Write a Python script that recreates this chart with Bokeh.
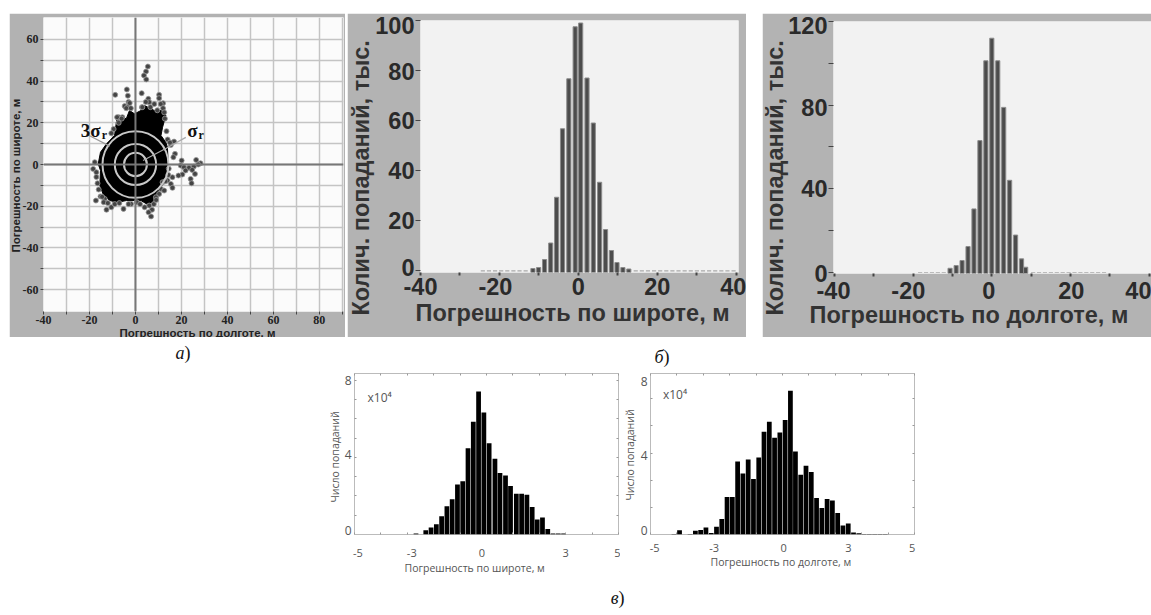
from math import pi
from bokeh.plotting import figure
from bokeh.models import (Range1d, LinearAxis, FixedTicker, Grid, Label, Title, Span, Spacer, Row, Column)
from bokeh.core.properties import value
from bokeh.embed import file_html
from bokeh.resources import INLINE

# ---------- panel a data (longitude error, latitude error, metres)
cloud_x = [-9.1,-8.3,-7.6,-4.0,-2.6,-0.4,2.4,3.9,8.2,12.5,13.2,11.8,11.1,13.2,13.9,14.2,13.5,11.5,9.6,7.5,5.3,2.4,-0.4,-4,-7.6,-11.2,-14.1,-15.5,-15.2,-16.2,-15.2,-12.6]
cloud_y = [13.9,20.3,23.5,21.9,25.9,24.3,25.9,28.3,25.9,25.9,23.5,17.9,13.9,10.7,8.3,1.9,-4.5,-10.1,-14.1,-18.1,-19.2,-17.3,-17.3,-17.3,-18.1,-17.3,-14.1,-10.1,-2.9,0.3,5.9,9.9]
pts_x = [5.4,4.6,3.7,4.7,-3.75,-8.8,2.7,-3.3,10.3,10.3,5.6,8.2,12,6,-4.7,-3.3,2.8,-7.3,-5.7,
         -17.7,-18.4,-17,-17.2,-15.2,-13.4,-13.8,-12.6,-10.5,-5.2,-1.9,0.6,7.2,5.7,6.8,6,
         17.2,16.5,20.1,19.7,21.1,23.3,25.4,26.4,28.3,27.3,24.7,21.8,25.9,24,24.4,20.4,18.7,16.1,13.9,15.4,11.8,16.1,11.1,10.3,8.9,12.5,16.8,15.4,
         -8,-6,-7.3,-9.5,-10.5,-3,-2.5,-4,-2,3,4.5,6.5,9.5,11,12,12.5,12.8,13.5,14,15,14.5,14.3,13,-17,-16.5,-16,-14.5,-12,-9,-7,-3,2,4,8,9]
pts_y = [47,44.6,42.7,40.8,36,33.4,34.2,33,33.4,31.8,31.5,29,29.4,29.9,28,27.5,27.5,22.7,22.7,
         1.1,-2.1,-3.7,-17.3,-15.3,-16.5,-18.1,-21.7,-20.5,-21.3,-18.9,-18.1,-21.7,-22.9,-24.9,-19.7,
         5.1,3.5,1.9,-0.5,-1.3,-1.6,-1,2.2,0.6,0,-2.6,-2.9,-4.5,-6.9,-9,-4.8,-5.3,-6.1,-7.7,-9.3,-8.5,-11.2,-11.7,-14.1,-15.7,-12.5,11,9.4,
         22.7,22,20,17,15,30,29.5,27,27,27.5,30,27.5,26,29,27,25,22,16,12,10.5,-2,-5,-8,-6,-9,-12,-15.5,-18.5,-19,-18.5,-19,-19,-20.5,-19,-17]
ring_w = [10, 18, 28.7]
ring_h = [11.2, 19.7, 32]

# ---------- panel b data (thousands of hits)
lat_x = [-11.5,-10.06,-8.55,-7,-5.5,-4,-2.4,-0.8,0.6,2.2,3.8,5.4,6.9,8.4,9.8,11.3,12.8]
lat_n = [0.8,1.2,4.4,11,29.3,56.7,76.7,97.5,99,77,59,35.3,16.4,8,3.2,1.2,0.6]
lat_tail = [-24.2,-22.65,-21.1,-19.55,-18,-16.45,-14.9,-13.35,14.55,16.1,17.65,19.2,20.75,22.3,23.85,25.4,26.95,28.5,30.05,31.6,33.15,34.7,36.25,37.8,39.35]
lon_x = [-10.6,-9.06,-7.55,-6.04,-4.53,-3.02,-1.51,0,1.51,3.02,4.53,6.04,7.55,8.6]
lon_n = [1.9,3.2,5.6,12.3,30.3,63,101.2,112,101.2,78.9,44,17.8,6.4,2.4]
lon_tail = [-18.2,-16.7,-15.2,-13.7,-12.2,10.5,12,13.5,15,16.5,18,19.5,21,22.5,24,25.5,27,28.5]

# ---------- panel c data (x10^4 hits)
c_lat_x = [-2.67,-2.3,-2.1,-1.9,-1.7,-1.5,-1.3,-1.1,-0.9,-0.7,-0.5,-0.3,-0.1,0.1,0.32,0.51,0.72,0.91,1.13,1.33,1.53,1.73,1.92,2.12,2.32,2.52,2.72,2.92]
c_lat_n = [0.05,0.22,0.36,0.53,0.95,1.47,1.83,2.6,2.76,4.48,5.86,7.43,6.34,4.74,3.93,3.19,3.07,2.52,2.12,2.12,2.07,1.43,0.78,0.88,0.28,0.05,0.05,0.05]
c_lon_x = [-4.11,-3.9,-3.5,-3.3,-3.1,-2.9,-2.7,-2.5,-2.3,-2.1,-1.9,-1.7,-1.5,-1.3,-1.1,-0.9,-0.7,-0.5,-0.3,-0.1,0.1,0.3,0.49,0.69,0.89,1.09,1.29,1.49,1.69,1.89,2.09,2.29,2.49,2.69,2.89,3.09,3.29,3.49,3.69,3.89]
c_lon_n = [0.03,0.22,0.03,0.19,0.24,0.36,0.08,0.4,0.81,1.95,1.95,3.79,3.17,3.9,2.88,4.0,5.34,5.86,5.03,5.29,5.95,7.47,4.31,3.1,3.57,3.24,1.9,1.38,1.84,1.76,1.12,0.47,0.57,0.1,0.07,0.03,0.03,0.03,0.03,0.03]

TEN = list(range(-40, 91, 10))
SANS = "Liberation Sans"


def base(w, h, left, right, top, bottom, xr, yr, bg, border):
    p = figure(width=w, height=h, x_range=Range1d(*xr), y_range=Range1d(*yr), x_axis_type=None, y_axis_type=None,
               toolbar_location=None, output_backend="svg", background_fill_color=bg, border_fill_color=border,
               min_border_left=left, min_border_right=right, min_border_top=top, min_border_bottom=bottom, outline_line_color=None)
    return p


def axis(p, side, ticks, labels=None, font=SANS, size="12px", color="#222222", style="normal", standoff=4,
         tick_color="#444444", tick_out=3, tick_in=0, tick_w=1):
    labels = labels if labels is not None else {}
    ov = {t: labels.get(t, "") for t in ticks}
    a = LinearAxis(ticker=FixedTicker(ticks=ticks), major_label_overrides=ov, axis_line_color=None,
                   minor_tick_line_color=None, major_tick_line_color=tick_color, major_tick_out=tick_out, major_tick_in=tick_in,
                   major_tick_line_width=tick_w, major_label_text_font=font, major_label_text_font_size=size,
                   major_label_text_color=color, major_label_text_font_style=style, major_label_standoff=standoff)
    p.add_layout(a, side)
    return a


def side_title(p, side, text, offset, standoff, size, font=SANS, style="normal", color="#222222"):
    p.add_layout(Title(text=text, align="left", offset=offset, standoff=standoff, text_font=font, text_font_size=size,
                       text_font_style=style, text_color=color), side)


def note(p, text, x, y, size, font=SANS, style="normal", color="#222222"):
    p.add_layout(Label(x=x, y=y, text=text, text_font=font, text_font_size=size, text_font_style=style,
                       text_color=color, text_align="center", text_baseline="middle"))


# ---------- panel a
pa = base(336, 324, 31, 2, 4, 26, (-40, 90.5), (-70.5, 70.5), "#fbfbfb", "#b2b2b2")
for d, t in ((0, TEN), (1, list(range(-60, 61, 10)))):
    pa.add_layout(Grid(dimension=d, ticker=FixedTicker(ticks=t), grid_line_color="#c4c4c4", grid_line_width=1.5))
axis(pa, "below", TEN, {t: str(t) for t in range(-40, 81, 20)}, font="Liberation Sans Narrow", size="12px", style="bold", standoff=1)
axis(pa, "left", list(range(-60, 61, 10)), {t: str(t) for t in range(-60, 61, 20)}, font="Liberation Sans Narrow", size="12px", style="bold", standoff=2)
pa.add_layout(Span(location=0, dimension="height", line_color="#777777", line_width=2))
pa.add_layout(Span(location=0, dimension="width", line_color="#777777", line_width=2))
pa.patch(cloud_x, cloud_y, fill_color="#000000", line_color="#000000")
pa.scatter(pts_x, pts_y, size=5, fill_color="#444444", line_color="#999999", line_width=0.8)
pa.ellipse([0, 0, 0], [0, 0, 0], width=ring_w, height=ring_h, fill_color=None, line_color="#c8c8c8", line_width=2)
pa.line([-21.2, -11.2], [14.5, 8.8], line_color="#999999", line_width=1.2)
pa.line([3.3, 13.6, 21.9], [1.9, 7.9, 13], line_color="#aaaaaa", line_width=1.2)
note(pa, "3σ", -19.5, 16.2, "19px", font="Liberation Serif", style="bold", color="#111111")
note(pa, "r", -13.5, 14.2, "12px", font="Liberation Serif", style="bold", color="#111111")
note(pa, "σ", 24.8, 16.2, "19px", font="Liberation Serif", style="bold", color="#111111")
note(pa, "r", 28.6, 14.2, "12px", font="Liberation Serif", style="bold", color="#111111")
side_title(pa, "below", "Погрешность по долготе, м", 76, -3, "11.5px", style="bold")
side_title(pa, "left", "Погрешность по широте, м", 59, -4, "11.5px", style="bold")


# ---------- panel b
def hist(w, left, right, top, bottom, xr, yr, xs, ns, tail, yt, ylpos, yl, xlpos, xstand, xtitle, xo, xs_t, yo, ys_t, th):
    p = base(w, 324, left, right, top, bottom, xr, yr, "#f2f2f2", "#b3b3b3")
    axis(p, "below", list(range(-40, 41, 10)), size="1px", standoff=0, tick_out=3, tick_w=2)
    axis(p, "below", xlpos, dict(zip(xlpos, ["-40", "-20", "0", "20", "40"])), size="23.5px", style="bold", color="#2a2a2a", standoff=xstand, tick_color=None, tick_out=0)
    axis(p, "left", yt, size="1px", standoff=0, tick_out=5)
    axis(p, "left", ylpos, dict(zip(ylpos, yl)), size="23.5px", style="bold", color="#2a2a2a", standoff=1, tick_color=None, tick_out=0)
    p.vbar(x=tail, width=1.05, bottom=yr[0] + th, top=yr[0] + 2.2 * th, fill_color="#a8a8a8", line_color=None)
    p.vbar(x=xs, width=1.05, bottom=yr[0], top=ns, fill_color="#4c4c4c", line_color="#8c8c8c", line_width=1)
    side_title(p, "below", xtitle, xo, xs_t, "23.5px", style="bold", color="#333333")
    side_title(p, "left", "Колич.  попаданий, тыс.", yo, ys_t, "23.5px", style="bold", color="#333333")
    return p


pb1 = hist(399, 71, 8, 7, 65, (-40, 40.6), (-0.8, 100), lat_x, lat_n, lat_tail,
           [0, 20, 40, 60, 80, 100], [1.2, 20, 40, 60, 79.6, 98], ["0", "20", "40", "60", "80", "100"],
           [-40, -21, 0, 20, 39.3], 2,
           "Погрешность по широте, м", -5, 1, -43, -3, 0.4)
pb2 = hist(389, 67, 0, 8, 64, (-40.2, 40.55), (-0.6, 120), lon_x, lon_n, lon_tail,
           [0, 20, 40, 60, 80, 100, 120], [-0.6, 40, 78.8, 118], ["0", "40", "80", "120"],
           [-40.2, -21.2, -0.8, 20.2, 39.7], 5,
           "Погрешность по долготе, м", -24, -4, -42, -5, 0.35)


# ---------- panel c
def chist(w, left, right, xlpos, ylpos, xstand, xs, ns, xtitle, xo, xs_t, yo, ys_t, ytk, x10x, x10y, top, bottom):
    p = base(w, 208, left, right, top, bottom, (-5, 5), (0, 8.36), "#ffffff", "#ffffff")
    p.outline_line_color = "#bbbbbb"
    tk = dict(size="1px", standoff=0, tick_color="#999999", tick_out=0, tick_in=2)
    xt = list(range(-5, 6))
    axis(p, "above", xt, **tk)
    axis(p, "right", ytk, **tk)
    axis(p, "below", xt, **tk)
    axis(p, "left", ytk, **tk)
    axis(p, "below", xlpos, dict(zip(xlpos, ["-5", "-3", "0", "3", "5"])), font="Open Sans", size="11px", color="#555555", tick_color=None, tick_out=0, standoff=xstand)
    axis(p, "left", ylpos, dict(zip(ylpos, ["0", "4", "8"])), font="Open Sans", size="12px", color="#555555", tick_color=None, tick_out=0, standoff=3)
    p.vbar(x=xs, width=0.18, bottom=0, top=ns, fill_color="#000000", line_color=None)
    side_title(p, "below", xtitle, xo, xs_t, "10.5px", font="Open Sans", color="#555555")
    side_title(p, "left", "Число попаданий", yo, ys_t, "10.5px", font="Open Sans", color="#555555")
    note(p, "x10⁴", x10x, x10y, "12px", font="Open Sans", color="#555555")
    return p


pc1 = chist(295, 28, 2, [-4.87, -2.83, -0.17, 3.0, 4.96], [0.2, 4.13, 8.02], 14, c_lat_x, c_lat_n,
            "Погрешность по широте, м", 50, -1, 32, 0, [1, 2, 3, 4, 5, 6, 7, 8], -4.05, 7.1, 1, 46)
pc2 = chist(305, 27, 11, [-4.84, -2.59, 0.04, 2.5, 4.91], [0.2, 4.1, 7.93], 9, c_lon_x, c_lon_n,
            "Погрешность по долготе, м", 60, -3, 34, 1, [1.41, 2.82, 4.23, 5.64, 7.05], -4.07, 7.25, 1, 46)


# ---------- panel letters
def strip(h, y0, y1, items):
    p = figure(width=1151, height=h, x_range=Range1d(0, 1151), y_range=Range1d(y1, y0), x_axis_type=None, y_axis_type=None,
               toolbar_location=None, output_backend="svg", outline_line_color=None, min_border=0)
    p.grid.visible = False
    for letter, x, y in items:
        p.text([x], [y], text=[letter], text_font=value("Liberation Serif"), text_font_style="italic", text_font_size="18px",
               text_color="#111111", text_align="right", text_baseline="middle")
        p.text([x], [y], text=[")"], text_font=value("Liberation Serif"), text_font_size="18px",
               text_color="#111111", text_align="left", text_baseline="middle")
    return p


s1 = strip(35, 337, 372, [("а", 184, 352), ("б", 663, 356)])
s2 = strip(35, 580, 615, [("в", 618, 597)])

root = Column(children=[
    Spacer(width=1151, height=13),
    Row(children=[Spacer(width=9, height=324), Column(children=[pa]), Spacer(width=2, height=324),
                  Column(children=[pb1]), Spacer(width=16, height=324), Column(children=[pb2])], spacing=0),
    s1,
    Row(children=[Spacer(width=325, height=208), pc1, pc2], spacing=0),
    s2,
], spacing=0)

open("out.html", "w").write(file_html(root, INLINE))
